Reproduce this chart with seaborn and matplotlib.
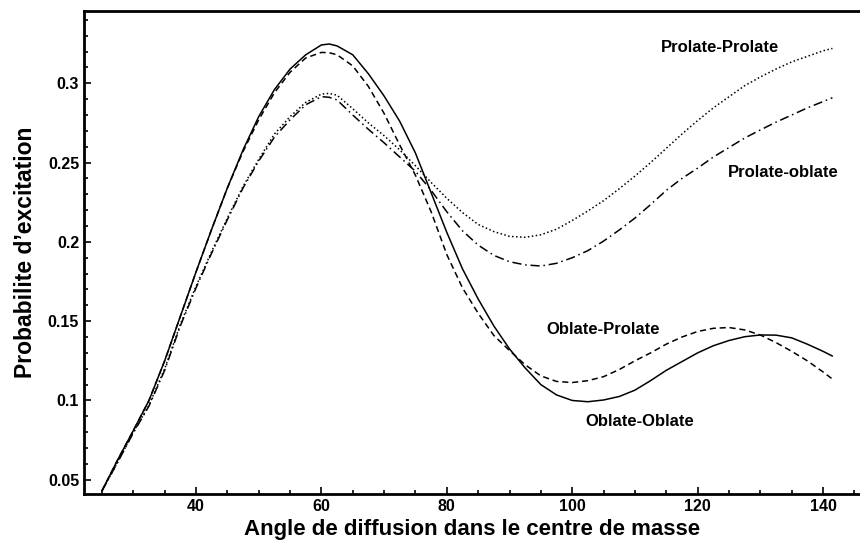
import numpy as np
import pandas as pd
import matplotlib
matplotlib.use("Agg")
import matplotlib.pyplot as plt
import seaborn as sns
from matplotlib.ticker import MultipleLocator, FormatStrFormatter

# angles (degrees, centre of mass frame)
angle = [25, 27.5, 30, 32.5, 35, 37.5, 40, 42.5, 45, 47.5, 50, 52.5, 55, 57.5, 60, 61.25,
         62.5, 65, 67.5, 70, 72.5, 75, 77.5, 80, 82.5, 85, 87.5, 90, 92.5, 95, 97.5,
         100, 102.5, 105, 107.5, 110, 112.5, 115, 117.5, 120, 122.5, 125, 127.5, 130,
         132.5, 135, 137.5, 140, 141.5]

oblate_oblate = [0.043, 0.0625, 0.081, 0.100, 0.125, 0.153, 0.181, 0.208, 0.234, 0.258,
                 0.279, 0.296, 0.309, 0.318, 0.3242, 0.3248, 0.3236, 0.318, 0.306, 0.292,
                 0.276, 0.256, 0.231, 0.206, 0.183, 0.164, 0.147, 0.1325, 0.1205, 0.110,
                 0.1035, 0.1000, 0.0992, 0.1003, 0.1025, 0.1065, 0.1125, 0.119, 0.1245,
                 0.130, 0.1345, 0.1378, 0.1402, 0.1413, 0.1412, 0.1395, 0.1355, 0.131, 0.128]

oblate_prolate = [0.043, 0.0625, 0.081, 0.100, 0.125, 0.153, 0.181, 0.208, 0.234, 0.257,
                  0.277, 0.294, 0.307, 0.316, 0.3195, 0.3193, 0.318, 0.311, 0.298, 0.281,
                  0.261, 0.242, 0.219, 0.192, 0.171, 0.155, 0.141, 0.1315, 0.1225, 0.1155,
                  0.112, 0.1113, 0.1125, 0.115, 0.1195, 0.125, 0.130, 0.1355, 0.140, 0.1435,
                  0.1455, 0.146, 0.1445, 0.1413, 0.1365, 0.131, 0.125, 0.118, 0.1135]

prolate_prolate = [0.043, 0.061, 0.080, 0.097, 0.120, 0.148, 0.172, 0.194, 0.215, 0.235,
                   0.252, 0.268, 0.279, 0.288, 0.2932, 0.2937, 0.2925, 0.284, 0.275, 0.267,
                   0.258, 0.248, 0.2375, 0.2275, 0.2185, 0.211, 0.2065, 0.2035, 0.2029,
                   0.2045, 0.208, 0.2135, 0.2195, 0.226, 0.2335, 0.2415, 0.250, 0.259, 0.268,
                   0.2765, 0.2845, 0.2915, 0.2985, 0.304, 0.309, 0.3135, 0.317, 0.3205, 0.322]

prolate_oblate = [0.043, 0.061, 0.0795, 0.0965, 0.119, 0.147, 0.171, 0.193, 0.214, 0.234,
                  0.251, 0.266, 0.277, 0.2865, 0.2916, 0.2912, 0.2895, 0.280, 0.271, 0.2625,
                  0.2535, 0.2445, 0.2325, 0.219, 0.207, 0.198, 0.1915, 0.1875, 0.1855,
                  0.1848, 0.1865, 0.190, 0.1945, 0.2005, 0.2075, 0.215, 0.2235, 0.2325,
                  0.240, 0.2465, 0.2535, 0.2595, 0.2655, 0.2706, 0.2755, 0.280, 0.2845,
                  0.2885, 0.2909]

labels = ["Prolate-Prolate", "Prolate-oblate", "Oblate-Prolate", "Oblate-Oblate"]
label_pos = [(123.6, 0.3223), (133.6, 0.244), (104.9, 0.145), (110.8, 0.0867)]

sns.set_style("ticks", {"axes.edgecolor": "black", "text.color": "black",
                        "axes.labelcolor": "black", "xtick.color": "black",
                        "ytick.color": "black"})
plt.rcParams['font.family'] = ['Liberation Sans', 'DejaVu Sans']
plt.rcParams['font.weight'] = 'bold'

fig = plt.figure(figsize=(8.6, 5.43), dpi=100)
ax = fig.add_axes([0.0977, 0.0902, 0.9023, 0.8895])

curves = {
    "Oblate-Oblate": (oblate_oblate, "-"),
    "Oblate-Prolate": (oblate_prolate, (0, (4, 2.5))),
    "Prolate-Prolate": (prolate_prolate, (0, (1, 1.6))),
    "Prolate-oblate": (prolate_oblate, (0, (6, 2.5, 1, 2.5))),
}
for name, (vals, ls) in curves.items():
    df = pd.DataFrame({"angle": angle, "p": vals})
    sns.lineplot(data=df, x="angle", y="p", ax=ax, color="black",
                 linestyle=ls, linewidth=1.1)

for txt, (tx, ty) in zip(labels, label_pos):
    ax.text(tx, ty, txt, ha="center", va="center", fontsize=12,
            fontweight="bold", color="black")

ax.set_xlim(22.14, 145.9)
ax.set_ylim(0.041, 0.3456)
ax.xaxis.set_major_locator(MultipleLocator(20))
ax.xaxis.set_minor_locator(MultipleLocator(5))
ax.yaxis.set_major_locator(MultipleLocator(0.05))
ax.yaxis.set_minor_locator(MultipleLocator(0.01))
ax.yaxis.set_major_formatter(FormatStrFormatter("%g"))
ax.set_xticks([40, 60, 80, 100, 120, 140])
ax.tick_params(which="both", direction="in", width=1.2, colors="black")
ax.tick_params(which="major", length=5, labelsize=11.5)
ax.tick_params(which="minor", length=3)
for t in ax.get_xticklabels() + ax.get_yticklabels():
    t.set_fontweight("bold")

for side in ["left", "bottom", "top"]:
    ax.spines[side].set_linewidth(2)
    ax.spines[side].set_color("black")
ax.spines["right"].set_visible(False)

ax.set_xlabel("Angle de diffusion dans le centre de masse", fontsize=16,
              fontweight="bold", labelpad=4, color="black")
ax.set_ylabel("Probabilite d\u2019excitation", fontsize=16.5, fontweight="bold",
              labelpad=8, color="black")

fig.savefig("out.png", dpi=100)
